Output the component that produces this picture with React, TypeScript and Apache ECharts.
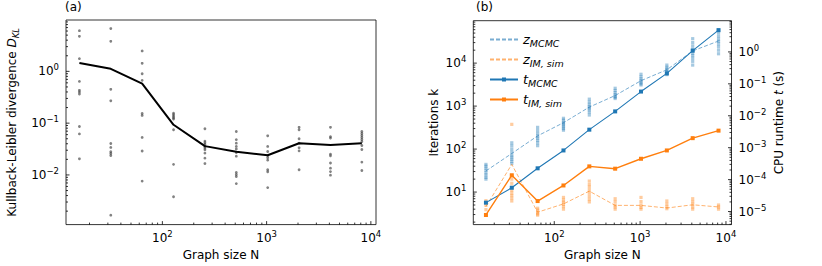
import React, { useEffect, useRef } from 'react';
import * as echarts from 'echarts';

const FONT = 'DejaVu Sans';
const N = [16, 32, 64, 128, 256, 512, 1024, 2048, 4096, 8192];

// Panel (a): KL divergence
const dklMean = [1.45, 1.12, 0.58, 0.093, 0.036, 0.028, 0.024, 0.041, 0.038, 0.041];
const dklRuns = [
  [6.1, 4.75, 1.76, 0.64, 0.43, 0.4, 0.365, 0.086, 0.062, 0.0205],
  [6.7, 3.8, 0.45, 0.27, 0.0405, 0.034, 0.028, 0.026, 0.0237, 0.00167],
  [2.48, 1.43, 0.9, 0.67, 0.154, 0.141, 0.053, 0.029, 0.0076],
  [0.155, 0.145, 0.135, 0.127, 0.12, 0.0745, 0.016, 0.0038],
  [0.078, 0.045, 0.0418, 0.0387, 0.0355, 0.033, 0.0306, 0.0264, 0.0211, 0.0166],
  [0.069, 0.048, 0.041, 0.0355, 0.0316, 0.027, 0.023, 0.0112, 0.0102, 0.0093, 0.0068],
  [0.057, 0.0355, 0.0284, 0.0237, 0.0214, 0.0193, 0.0126, 0.0115, 0.0057],
  [0.083, 0.0745, 0.05, 0.041, 0.0334, 0.0292, 0.0126],
  [0.083, 0.055, 0.0515, 0.0252, 0.0234, 0.017, 0.0135, 0.0116, 0.0099],
  [0.069, 0.063, 0.0578, 0.0528, 0.0484, 0.0443, 0.037, 0.031, 0.0177, 0.0122],
];

// Panel (b): iterations (left axis)
const zMcmcMean = [31, 79, 203, 411, 948, 1760, 3900, 7000, 19200, 32700];
const zMcmcRuns = [
  [44, 40, 36, 32, 28, 25, 22, 20],
  [140, 120, 100, 85, 72, 65, 58, 52, 46],
  [320, 270, 230, 200, 180, 160, 140, 120],
  [520, 470, 420, 390, 360, 330, 300, 275],
  [1450, 1250, 1100, 980, 900, 820, 720, 620],
  [2600, 2300, 2050, 1850, 1700, 1600, 1500],
  [5500, 4800, 4300, 3900, 3600, 3300, 3100],
  [9000, 8000, 7300, 6800, 6300, 5800, 5400],
  [37000, 30000, 25000, 21000, 19000, 17000, 15000, 13000, 11000, 9000],
  [60000, 50000, 42000, 36000, 32000, 28000, 24000, 20000, 16500],
];
const zImMean = [4.6, 44, 3.4, 5.3, 10.5, 4.9, 4.9, 4.25, 5.06, 4.5];
const zImRuns = [
  [6.3, 4.9, 3.9, 3.0],
  [376, 24, 20, 16, 13, 11, 9.5, 8.3, 7.2, 6.2],
  [4.2, 3.8, 3.4, 3.1, 2.9],
  [7.5, 6.5, 5.8, 5.2, 4.6, 4.0],
  [18, 15, 13, 11, 9.5, 8, 6.8, 5.9],
  [7.0, 6.0, 5.0, 4.5, 4.0],
  [7.5, 6.0, 5.0, 4.4, 4.0],
  [6.2, 5.3, 4.6, 4.1],
  [7.0, 6.0, 5.2, 4.5, 4.0],
  [5.0, 4.5, 4.0],
];
// Panel (b): CPU runtime (right axis)
const tMcmc = [1.9e-5, 5.56e-5, 2.26e-4, 8.2e-4, 3.67e-3, 0.0137, 0.0573, 0.212, 1.1, 4.8];
const tIm = [7.8e-6, 1.37e-4, 2.13e-5, 6.56e-5, 2.6e-4, 2.2e-4, 4.5e-4, 8.2e-4, 1.99e-3, 3.42e-3];

const BLUE = '#1f77b4';
const ORANGE = '#ff7f0e';

const pow10Label = (v: number) => {
  const e = Math.log10(v);
  const r = Math.round(e);
  if (Math.abs(e - r) > 1e-6) return '';
  const s = r < 0 ? '\u2212' + Math.abs(r) : String(r);
  return '{b|10}{s|' + s + '}';
};

const richLabel = {
  b: { fontFamily: FONT, fontSize: 12, lineHeight: 17, color: '#000' },
  s: { fontFamily: FONT, fontSize: 8.5, lineHeight: 10, verticalAlign: 'top', color: '#000' },
};

// tick positions (axis structure, matplotlib-like log ticks)
const logTicks = (lo: number, hi: number) => {
  const out: { v: number; major: number }[] = [];
  for (let e = Math.floor(Math.log10(lo)) - 1; e <= Math.ceil(Math.log10(hi)); e++) {
    for (let m = 1; m <= 9; m++) {
      const v = m * Math.pow(10, e);
      if (v >= lo * 1.0001 && v <= hi * 0.9999) out.push({ v, major: m === 1 ? 1 : 0 });
    }
  }
  return out;
};

const A_X = [11.9, 11200];
const A_Y = [0.0011, 9.8];
const B_X = [11.4, 11600];
const B_YL = [1.75, 97000];
const B_YR = [3.9e-6, 9.5];

const tickRender = (params: any, api: any) => {
  const cs = params.coordSys;
  const kind = api.value(2);
  const major = api.value(3);
  const len = major ? 3.5 : 2;
  const p = api.coord([api.value(0), api.value(1)]);
  let shape;
  if (kind === 0) {
    const b = cs.y + cs.height;
    shape = { x1: p[0], y1: b, x2: p[0], y2: b - len };
  } else if (kind === 1) {
    shape = { x1: cs.x, y1: p[1], x2: cs.x + len, y2: p[1] };
  } else {
    const r = cs.x + cs.width;
    shape = { x1: r, y1: p[1], x2: r - len, y2: p[1] };
  }
  return { type: 'line', shape, style: { stroke: '#000', lineWidth: 0.8 } };
};

const tickData = (xr: number[], yr: number[], xTicks: boolean, yKind: number) => {
  const d: number[][] = [];
  const xm = Math.sqrt(xr[0] * xr[1]);
  const ym = Math.sqrt(yr[0] * yr[1]);
  if (xTicks) logTicks(xr[0], xr[1]).forEach((t) => d.push([t.v, ym, 0, t.major]));
  if (yKind) logTicks(yr[0], yr[1]).forEach((t) => d.push([xm, t.v, yKind, t.major]));
  return d;
};

const scatterPts = (runs: number[][]) => {
  const out: number[][] = [];
  runs.forEach((r, i) => r.forEach((v) => out.push([N[i], v])));
  return out;
};
const pairs = (ys: number[]) => N.map((n, i) => [n, ys[i]]);

const axisCommon = {
  type: 'log',
  logBase: 10,
  axisLine: { show: false },
  axisTick: { show: false },
  splitLine: { show: false },
  minorTick: { show: false },
};

const App: React.FC = () => {
  const ref = useRef<HTMLDivElement>(null);
  useEffect(() => {
    if (!ref.current) return;
    const chart = echarts.init(ref.current, undefined, { renderer: 'svg' });
    const option: any = {
      animation: false,
      backgroundColor: '#fff',
      textStyle: { fontFamily: FONT },
      grid: [
        { left: 66, top: 20, width: 310, height: 206, show: true, borderColor: '#000', borderWidth: 0.8, backgroundColor: 'transparent' },
        { left: 473.3, top: 20.7, width: 258.2, height: 205.3, show: true, borderColor: '#000', borderWidth: 0.8, backgroundColor: 'transparent' },
      ],
      xAxis: [
        {
          ...axisCommon, gridIndex: 0, min: A_X[0], max: A_X[1],
          axisLabel: { formatter: pow10Label, rich: richLabel, margin: 5 },
          name: 'Graph size N', nameLocation: 'middle', nameGap: 24,
          nameTextStyle: { fontFamily: FONT, fontSize: 12, color: '#000' },
        },
        {
          ...axisCommon, gridIndex: 1, min: B_X[0], max: B_X[1],
          axisLabel: { formatter: pow10Label, rich: richLabel, margin: 5 },
          name: 'Graph size N', nameLocation: 'middle', nameGap: 24,
          nameTextStyle: { fontFamily: FONT, fontSize: 12, color: '#000' },
        },
      ],
      yAxis: [
        {
          ...axisCommon, gridIndex: 0, min: A_Y[0], max: A_Y[1],
          axisLabel: { formatter: pow10Label, rich: richLabel, margin: 7 },
          name: '{n|Kullback-Leibler divergence }{i|D}{sub|KL}', nameLocation: 'middle', nameGap: 46, nameRotate: 90,
          nameTextStyle: {
            color: '#000',
            rich: {
              n: { fontFamily: FONT, fontSize: 12, lineHeight: 16, color: '#000' },
              i: { fontFamily: FONT, fontSize: 12, fontStyle: 'italic', lineHeight: 16, color: '#000' },
              sub: { fontFamily: FONT, fontSize: 8.5, fontStyle: 'italic', lineHeight: 10, verticalAlign: 'bottom', color: '#000' },
            },
          },
        },
        {
          ...axisCommon, gridIndex: 1, min: B_YL[0], max: B_YL[1], position: 'left',
          axisLabel: { formatter: pow10Label, rich: richLabel, margin: 7 },
          name: 'Iterations k', nameLocation: 'middle', nameGap: 33, nameRotate: 90,
          nameTextStyle: { fontFamily: FONT, fontSize: 12, color: '#000' },
        },
        {
          ...axisCommon, gridIndex: 1, min: B_YR[0], max: B_YR[1], position: 'right',
          axisLabel: { formatter: pow10Label, rich: richLabel, margin: 7 },
          name: '{n|CPU runtime }{i|t}{n| (s)}', nameLocation: 'middle', nameGap: 41, nameRotate: 90,
          nameTextStyle: {
            color: '#000',
            rich: {
              n: { fontFamily: FONT, fontSize: 12, color: '#000' },
              i: { fontFamily: FONT, fontSize: 12, fontStyle: 'italic', color: '#000' },
            },
          },
        },
      ],
      legend: {
        orient: 'vertical',
        left: 484,
        top: 28,
        itemWidth: 28,
        itemHeight: 5,
        itemGap: 4.5,
        data: [
          { name: 'zMCMC', itemStyle: { opacity: 0 } },
          { name: 'zIM', itemStyle: { opacity: 0 } },
          { name: 'tMCMC' },
          { name: 'tIM' },
        ],
        formatter: (name: string) => {
          const m: Record<string, string> = {
            zMCMC: '{b|z}{s|MCMC}',
            zIM: '{b|z}{s|IM, sim}',
            tMCMC: '{b|t}{s|MCMC}',
            tIM: '{b|t}{s|IM, sim}',
          };
          return m[name];
        },
        textStyle: {
          rich: {
            b: { fontFamily: FONT, fontSize: 13, fontStyle: 'italic', lineHeight: 18, color: '#000' },
            s: { fontFamily: FONT, fontSize: 9.5, fontStyle: 'italic', lineHeight: 12, verticalAlign: 'bottom', color: '#000' },
          },
        },
      },
      graphic: [
        { type: 'text', left: 65, top: 1, style: { text: '(a)', fontFamily: FONT, fontSize: 12, fill: '#000' } },
        { type: 'text', left: 476, top: 1, style: { text: '(b)', fontFamily: FONT, fontSize: 12, fill: '#000' } },
      ],
      series: [
        // ticks
        { type: 'custom', xAxisIndex: 0, yAxisIndex: 0, renderItem: tickRender, encode: { x: 0, y: 1 }, data: tickData(A_X, A_Y, true, 1), silent: true, z: 10 },
        { type: 'custom', xAxisIndex: 1, yAxisIndex: 1, renderItem: tickRender, encode: { x: 0, y: 1 }, data: tickData(B_X, B_YL, true, 1), silent: true, z: 10 },
        { type: 'custom', xAxisIndex: 1, yAxisIndex: 2, renderItem: tickRender, encode: { x: 0, y: 1 }, data: tickData(B_X, B_YR, false, 2), silent: true, z: 10 },
        // panel a
        {
          type: 'scatter', xAxisIndex: 0, yAxisIndex: 0, data: scatterPts(dklRuns),
          symbol: 'circle', symbolSize: 2.8, itemStyle: { color: 'rgba(60,60,60,0.8)' }, silent: true,
        },
        {
          type: 'line', xAxisIndex: 0, yAxisIndex: 0, data: pairs(dklMean), showSymbol: false, symbol: 'none',
          lineStyle: { color: '#000', width: 2 }, silent: true, z: 3,
        },
        // panel b scatter
        {
          type: 'scatter', xAxisIndex: 1, yAxisIndex: 1, data: scatterPts(zMcmcRuns),
          symbol: 'rect', symbolSize: 3.2, itemStyle: { color: 'rgba(31,119,180,0.5)' }, silent: true,
        },
        {
          type: 'scatter', xAxisIndex: 1, yAxisIndex: 1, data: scatterPts(zImRuns),
          symbol: 'rect', symbolSize: 3.2, itemStyle: { color: 'rgba(255,127,14,0.5)' }, silent: true,
        },
        {
          name: 'zMCMC', type: 'line', xAxisIndex: 1, yAxisIndex: 1, data: pairs(zMcmcMean), symbol: 'none',
          lineStyle: { color: 'rgba(31,119,180,0.6)', width: 1, type: [4, 2] }, itemStyle: { color: 'rgba(31,119,180,0.6)' }, silent: true,
        },
        {
          name: 'zIM', type: 'line', xAxisIndex: 1, yAxisIndex: 1, data: pairs(zImMean), symbol: 'none',
          lineStyle: { color: 'rgba(255,127,14,0.6)', width: 1, type: [4, 2] }, itemStyle: { color: 'rgba(255,127,14,0.6)' }, silent: true,
        },
        {
          name: 'tMCMC', type: 'line', xAxisIndex: 1, yAxisIndex: 2, data: pairs(tMcmc), symbol: 'rect', symbolSize: 4,
          lineStyle: { color: BLUE, width: 1.1 }, itemStyle: { color: BLUE }, silent: true, z: 4,
        },
        {
          name: 'tIM', type: 'line', xAxisIndex: 1, yAxisIndex: 2, data: pairs(tIm), symbol: 'rect', symbolSize: 4,
          lineStyle: { color: ORANGE, width: 1.4 }, itemStyle: { color: ORANGE }, silent: true, z: 4,
        },
      ],
    };
    chart.setOption(option);
    return () => chart.dispose();
  }, []);
  return <div ref={ref} style={{ position: 'fixed', left: 0, top: 0, width: 822, height: 266 }} />;
};

export default App;
